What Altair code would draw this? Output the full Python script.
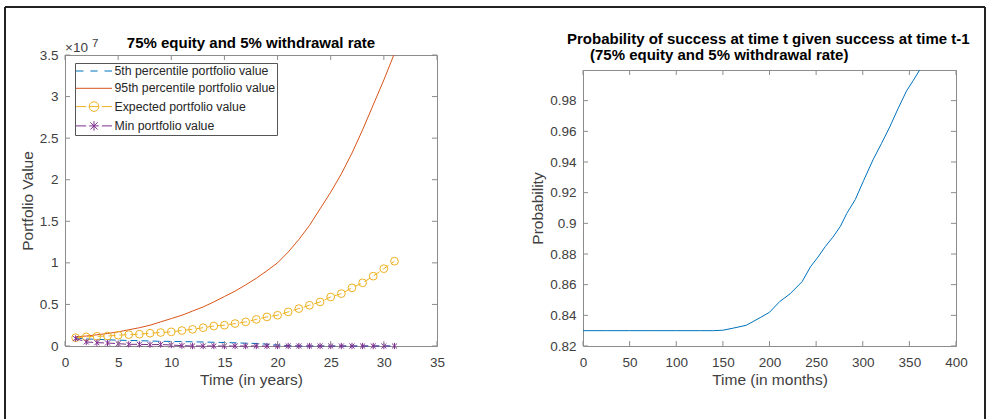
import altair as alt
import pandas as pd

# ---------------- data: left panel (portfolio value, dollars) ----------------
years = list(range(1, 32))
p95_e7 = [0.11, 0.12, 0.135, 0.15, 0.17, 0.195, 0.22, 0.25, 0.29, 0.33,
          0.37, 0.42, 0.47, 0.53, 0.595, 0.66, 0.735, 0.815, 0.905, 1.00,
          1.13, 1.28, 1.45, 1.65, 1.85, 2.07, 2.32, 2.60, 2.90, 3.20, 3.52]
expected_e7 = [0.10, 0.11, 0.117, 0.12, 0.13, 0.137, 0.142, 0.154, 0.162, 0.17,
               0.186, 0.20, 0.22, 0.24, 0.25, 0.27, 0.29, 0.32, 0.35, 0.37,
               0.41, 0.45, 0.49, 0.53, 0.59, 0.63, 0.70, 0.76, 0.84, 0.93, 1.02]
p5_e7 = [0.095, 0.085, 0.08, 0.075, 0.07, 0.067, 0.064, 0.06, 0.057, 0.055,
         0.053, 0.05, 0.048, 0.045, 0.042, 0.038, 0.034, 0.03, 0.022, 0.012,
         0.004, 0, 0, 0, 0, 0, 0, 0, 0, 0, 0]
min_e7 = [0.09, 0.049, 0.04, 0.036, 0.028, 0.02, 0.02, 0.016, 0.018, 0.012,
          0.004, 0, 0, 0, 0, 0, 0, 0, 0, 0,
          0, 0, 0, 0, 0, 0, 0, 0, 0, 0, 0]
series_names = ["5th percentile portfolio value", "95th percentile portfolio value",
                "Expected portfolio value", "Min portfolio value"]
x_ticks_left = [0, 5, 10, 15, 20, 25, 30, 35]
y_ticks_left = [0, 0.5e7, 1.0e7, 1.5e7, 2.0e7, 2.5e7, 3.0e7, 3.5e7]

# ---------------- data: right panel (conditional probability) ----------------
months = [0, 25, 50, 75, 100, 125, 140, 150, 160, 175, 190, 200, 211, 222, 235,
          244, 252, 260, 268, 276, 283, 292, 301, 311, 320, 329, 338, 347, 354, 362]
prob = [0.830, 0.830, 0.830, 0.830, 0.830, 0.830, 0.830, 0.8303, 0.8315, 0.8335,
        0.8385, 0.842, 0.849, 0.854, 0.862, 0.8717, 0.878, 0.885, 0.891, 0.898,
        0.9066, 0.9155, 0.928, 0.9414, 0.952, 0.9629, 0.975, 0.9864, 0.993, 1.001]
x_ticks_right = [0, 50, 100, 150, 200, 250, 300, 350, 400]
y_ticks_right = [0.82, 0.84, 0.86, 0.88, 0.90, 0.92, 0.94, 0.96, 0.98]

# ---------------- styling ----------------
FONT = "Liberation Sans"
TXT = "#404040"
BOX = "#8c8c8c"
BLUE = "#0072BD"
ORANGE = "#D95319"
YELLOW = "#EDB120"
PURPLE = "#7E2F8E"
FRAME = "#222222"
W1, H1 = 372, 291
W2, H2 = 373, 276
TK = 5  # inward tick length

left_df = pd.DataFrame({
    "year": years,
    "p95": [v * 1e7 for v in p95_e7],
    "expected": [v * 1e7 for v in expected_e7],
    "p5": [v * 1e7 for v in p5_e7],
    "minv": [v * 1e7 for v in min_e7],
})
right_df = pd.DataFrame({"month": months, "prob": prob})
one = pd.DataFrame({"k": [0]})

xs_l = alt.Scale(domain=[0, 35], nice=False, zero=False)
ys_l = alt.Scale(domain=[0, 3.5e7], nice=False, zero=False)
xs_r = alt.Scale(domain=[0, 400], nice=False, zero=False)
ys_r = alt.Scale(domain=[0.82, 1.0], nice=False, zero=False)


def lab_axis(orient, values, title, **kw):
    pad = 9 if orient == "bottom" else 7
    return alt.Axis(orient=orient, values=values, title=title, grid=False, domain=False,
                    ticks=False, tickSize=0, labelFont=FONT, labelFontSize=13.5,
                    labelColor=TXT, labelPadding=pad, labelFlush=False, labelOverlap=False,
                    titleFont=FONT, titleFontSize=15.5, titleFontWeight="normal",
                    titleColor=TXT, titlePadding=4, **kw)


def tick_marks(xv, yv, xs, ys, W, H):
    """Inward MATLAB-style ticks on all four sides of the box."""
    xdf = pd.DataFrame({"t": xv})
    ydf = pd.DataFrame({"t": yv})
    rx = alt.Chart(xdf).mark_rule(color=BOX, strokeWidth=1)
    ry = alt.Chart(ydf).mark_rule(color=BOX, strokeWidth=1)
    xe = alt.X("t:Q", scale=xs, axis=None)
    ye = alt.Y("t:Q", scale=ys, axis=None)
    return [
        rx.encode(x=xe, y=alt.value(H), y2=alt.value(H - TK)),
        rx.encode(x=xe, y=alt.value(0), y2=alt.value(TK)),
        ry.encode(y=ye, x=alt.value(0), x2=alt.value(TK)),
        ry.encode(y=ye, x=alt.value(W), x2=alt.value(W - TK)),
    ]


# ---------------- left panel ----------------
xl_none = alt.X("year:Q", scale=xs_l, axis=None)

line95 = alt.Chart(left_df).mark_line(color=ORANGE, strokeWidth=1, clip=True).encode(
    x=alt.X("year:Q", scale=xs_l, axis=lab_axis("bottom", x_ticks_left, "Time (in years)")),
    y=alt.Y("p95:Q", scale=ys_l,
            axis=lab_axis("left", y_ticks_left, "Portfolio Value",
                          labelExpr="datum.value / 10000000")),
)
line5 = alt.Chart(left_df).mark_line(color=BLUE, strokeWidth=1, strokeDash=[7, 4]).encode(
    x=xl_none, y=alt.Y("p5:Q", scale=ys_l, axis=None))
line_exp = alt.Chart(left_df).mark_line(color=YELLOW, strokeWidth=1, strokeDash=[7, 4]).encode(
    x=xl_none, y=alt.Y("expected:Q", scale=ys_l, axis=None))
pts_exp = alt.Chart(left_df).mark_point(color=YELLOW, shape="circle", size=60, filled=False,
                                        strokeWidth=1, opacity=1).encode(
    x=xl_none, y=alt.Y("expected:Q", scale=ys_l, axis=None))
line_min = alt.Chart(left_df).mark_line(color=PURPLE, strokeWidth=1, strokeDash=[7, 4]).encode(
    x=xl_none, y=alt.Y("minv:Q", scale=ys_l, axis=None))
pts_min = alt.Chart(left_df).mark_point(
    color=PURPLE, shape="M-0.8,-0.8L0.8,0.8M-0.8,0.8L0.8,-0.8M0,-1V1", size=40,
    filled=False, strokeWidth=1, opacity=1).encode(
    x=xl_none, y=alt.Y("minv:Q", scale=ys_l, axis=None))

legend_paths = [
    "M-3,0H-1.75M-0.6,0H0.6M1.75,0H3",
    "M-3,0H3",
    "M-3,0H-1.3M1.3,0H3M-0.8,0A0.8,0.8,0,1,1,0.8,0A0.8,0.8,0,1,1,-0.8,0ZM-0.8,0H0.8",
    "M-3,0H-1.3M1.3,0H3M-0.6,-0.6L0.6,0.6M-0.6,0.6L0.6,-0.6M0,-0.8V0.8M-0.8,0H0.8",
]
legend_df = pd.DataFrame({"series": series_names, "year": [1] * 4, "val": [0.0] * 4})
leg = alt.Legend(orient="none", legendX=10, legendY=8, title=None, labelFont=FONT,
                 labelFontSize=12.3, labelColor="#262626", strokeColor="#555555",
                 fillColor="white", padding=1.5, symbolSize=144, symbolStrokeWidth=1,
                 symbolOpacity=1, symbolOffset=11, labelOffset=14, rowPadding=4.3,
                 labelLimit=400)
legend_layer = alt.Chart(legend_df).mark_point(opacity=0, filled=False).encode(
    x=xl_none, y=alt.Y("val:Q", scale=ys_l, axis=None),
    color=alt.Color("series:N", scale=alt.Scale(domain=series_names,
                                                range=[BLUE, ORANGE, YELLOW, PURPLE]),
                    legend=leg),
    shape=alt.Shape("series:N", scale=alt.Scale(domain=series_names, range=legend_paths),
                    legend=leg),
)

left = alt.layer(
    line95, line5, line_exp, pts_exp, line_min, pts_min,
    *tick_marks(x_ticks_left, y_ticks_left, xs_l, ys_l, W1, H1),
    legend_layer,
).resolve_axis(x="independent", y="independent").properties(
    width=W1, height=H1,
    title=alt.TitleParams("75% equity and 5% withdrawal rate", font=FONT, fontSize=15,
                          fontWeight="bold", color="black", anchor="middle",
                          frame="group", offset=-3),
)

# ---------------- right panel ----------------
line_prob = alt.Chart(right_df).mark_line(color=BLUE, strokeWidth=1, clip=True).encode(
    x=alt.X("month:Q", scale=xs_r, axis=lab_axis("bottom", x_ticks_right, "Time (in months)")),
    y=alt.Y("prob:Q", scale=ys_r,
            axis=lab_axis("left", y_ticks_right, "Probability", format=".2~f")),
)

right = alt.layer(
    line_prob,
    *tick_marks(x_ticks_right, y_ticks_right, xs_r, ys_r, W2, H2),
).resolve_axis(x="independent", y="independent").properties(
    width=W2, height=H2,
    title=alt.TitleParams(
        "Probability of success at time t given success at time t-1",
        font=FONT, fontSize=15, fontWeight="bold", color="black", anchor="start",
        frame="group", dx=-16, offset=23),
)

# ---------------- spacer row above the right panel; carries the figure frame,
# the second title line and the x10^7 exponent (positions relative to the
# spacer origin, which sits level with the top of the left plot box) -------------
def txt(text, x, y, size, weight="normal", color=TXT):
    return alt.Chart(one).mark_text(text=text, font=FONT, fontSize=size, fontWeight=weight,
                                    color=color, align="left", baseline="alphabetic").encode(
        x=alt.value(x), y=alt.value(y))


def rule(**enc):
    return alt.Chart(one).mark_rule(color=FRAME, strokeWidth=2).encode(**enc)


OX = -518  # left plot origin relative to spacer origin
spacer = alt.layer(
    txt("(75% equity and 5% withdrawal rate)", 7, 5, 15, "bold", "black"),
    txt("×10", OX, -3, 13.5),
    txt("7", OX + 27, -8.5, 11.5),
    rule(x=alt.value(OX - 60), x2=alt.value(402), y=alt.value(-48)),
    rule(x=alt.value(OX - 60), y=alt.value(-48), y2=alt.value(364)),
    rule(x=alt.value(402), y=alt.value(-48), y2=alt.value(364)),
).properties(width=W2, height=15, view=alt.ViewBackground(strokeOpacity=0))

right_col = alt.vconcat(spacer, right, spacing=0, bounds="flush")

chart = alt.hconcat(left, right_col, spacing=146, bounds="flush").properties(
    padding={"left": 4, "top": 6, "right": 1, "bottom": 0},
    background="white",
).configure_view(stroke=BOX, strokeWidth=1)

chart.save("out.html", embed_options={"renderer": "svg", "actions": False})
